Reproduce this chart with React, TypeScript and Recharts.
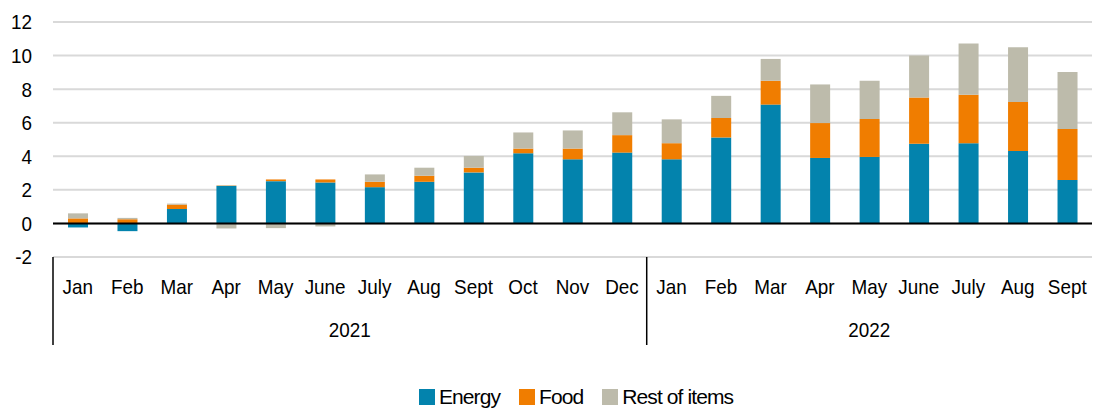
import {
  BarChart,
  Bar,
  XAxis,
  YAxis,
  CartesianGrid,
  ReferenceLine,
  Legend,
} from "recharts";

const FONT = "'Liberation Sans', Arial, sans-serif";
const SQUEEZE = 0.9;

const months = [
  "Jan", "Feb", "Mar", "Apr", "May", "June", "July", "Aug", "Sept", "Oct", "Nov", "Dec",
  "Jan", "Feb", "Mar", "Apr", "May", "June", "July", "Aug", "Sept",
];
const years = [
  "2021", "2021", "2021", "2021", "2021", "2021", "2021", "2021", "2021", "2021", "2021", "2021",
  "2022", "2022", "2022", "2022", "2022", "2022", "2022", "2022", "2022",
];
const energy = [
  -0.24, -0.46, 0.86, 2.24, 2.52, 2.44, 2.16, 2.48, 3.04, 4.18, 3.82, 4.22,
  3.82, 5.12, 7.08, 3.9, 3.96, 4.74, 4.78, 4.32, 2.58,
];
const food = [
  0.3, 0.25, 0.26, 0.02, 0.1, 0.18, 0.32, 0.36, 0.28, 0.28, 0.64, 1.04,
  0.96, 1.16, 1.42, 2.08, 2.26, 2.76, 2.88, 2.92, 3.04,
];
const rest = [
  0.3, 0.08, 0.06, -0.3, -0.28, -0.18, 0.44, 0.48, 0.7, 0.96, 1.08, 1.36,
  1.42, 1.32, 1.3, 2.3, 2.28, 2.5, 3.06, 3.26, 3.4,
];
const yTicks = [-2, 0, 2, 4, 6, 8, 10, 12];

const series = [
  { key: "energy", name: "Energy", color: "#0383ad" },
  { key: "food", name: "Food", color: "#f07d00" },
  { key: "rest", name: "Rest of items", color: "#bdbbab" },
];

const data = months.map((m, i) => ({
  month: m,
  year: years[i],
  energy: energy[i],
  food: food[i],
  rest: rest[i],
}));

// narrow-looking label: the reference uses a condensed face
const Label = ({ x, y, anchor, children }: any) => (
  <text
    transform={`translate(${x},${y}) scale(${SQUEEZE},1)`}
    textAnchor={anchor}
    dominantBaseline="central"
    fontSize={21}
    fontFamily={FONT}
    fill="#000"
  >
    {children}
  </text>
);

const MonthTick = (props: any) => {
  const { x, y, payload } = props;
  const i: number = payload.index;
  const half: number = payload.offset || 24.7;
  const isStart = i === 0 || years[i] !== years[i - 1];
  let yearLabel = null;
  if (isStart) {
    let end = i;
    while (end + 1 < years.length && years[end + 1] === years[i]) end++;
    const cx = x + (end - i) * half;
    yearLabel = <Label x={cx} y={y + 73} anchor="middle">{years[i]}</Label>;
  }
  return (
    <g>
      <Label x={x} y={y + 30} anchor="middle">{payload.value}</Label>
      {isStart && <line x1={x - half} x2={x - half} y1={y} y2={y + 88} stroke="#000" strokeWidth={1.5} />}
      {yearLabel}
    </g>
  );
};

const ValueTick = (props: any) => {
  const { x, y, payload } = props;
  return <Label x={x} y={y} anchor="end">{payload.value}</Label>;
};

const renderLegend = () => (
  <div
    style={{
      display: "flex",
      justifyContent: "center",
      gap: 19,
      paddingLeft: 60,
      paddingTop: 6,
      fontFamily: FONT,
      fontSize: 21,
      letterSpacing: -0.9,
      color: "#000",
    }}
  >
    {series.map((s) => (
      <div key={s.key} style={{ display: "flex", alignItems: "center" }}>
        <span style={{ width: 16, height: 16, background: s.color, marginRight: 4, display: "inline-block" }} />
        <span>{s.name}</span>
      </div>
    ))}
  </div>
);

const App = () => {
  return (
    <div>
      <style>{`body{margin:0}`}</style>
      <BarChart
        width={1100}
        height={409}
        data={data}
        stackOffset="sign"
        margin={{ top: 22, right: 8, bottom: 0, left: 0 }}
      >
        <CartesianGrid vertical={false} stroke="#d9d9d9" strokeWidth={2} />
        <XAxis
          dataKey="month"
          interval={0}
          tickLine={false}
          axisLine={false}
          tickSize={0}
          tickMargin={0}
          height={122}
          tick={<MonthTick />}
        />
        <YAxis
          domain={[-2, 12]}
          ticks={yTicks}
          width={53}
          tickLine={false}
          axisLine={false}
          tickSize={0}
          tickMargin={21}
          tick={<ValueTick />}
        />
        <Legend verticalAlign="bottom" height={30} content={renderLegend} />
        {series.map((s) => (
          <Bar
            key={s.key}
            dataKey={s.key}
            name={s.name}
            stackId="a"
            fill={s.color}
            barSize={20}
            isAnimationActive={false}
          />
        ))}
        <ReferenceLine y={0} stroke="#000" strokeWidth={2} />
      </BarChart>
    </div>
  );
};

export default App;
